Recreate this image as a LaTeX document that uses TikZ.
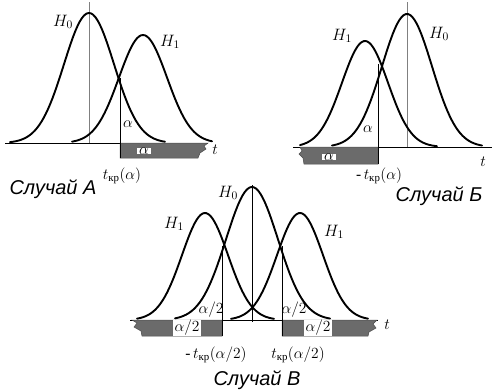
\RequirePackage{fix-cm}
\documentclass[tikz,border=0pt]{standalone}
\usepackage{amsmath}
\usepackage{fontspec}
\setmainfont{Liberation Serif}
\newfontfamily\capfont{Liberation Sans}
\usetikzlibrary{positioning}

\newcommand{\tkr}{t_{\text{кр}}}

\begin{document}
\begin{tikzpicture}[x=1pt, y=-1pt,
    curve/.style={line width=1.9pt, line cap=round},
    axis/.style={line width=0.6pt},
    guide/.style={line width=0.6pt, gray},
    crit/.style={line width=0.9pt},
    tail/.style={fill=black!58, draw=black!70, line width=0.5pt},
    hyp/.style={font=\fontsize{16.5}{18}\selectfont, inner sep=1pt},
    lbl/.style={font=\fontsize{15.5}{17}\selectfont, inner sep=1pt},
    inbox/.style={lbl, fill=white, inner xsep=2pt, inner ysep=0pt},
    caption/.style={font=\capfont\itshape\fontsize{20}{22}\selectfont}
]
\useasboundingbox (0,0) rectangle (496,391);

% Case A
\draw[axis] (5,143) -- (208,143);
\draw[guide] (89,2) -- (89,143);
\fill[tail] (120,143) -- (208,143) -- (204,146) -- (206,149) -- (200,153) -- (198,158) -- (120,158) -- cycle;
\draw[curve] plot[domain=10:165, samples=70] (\x, {143-130*exp(-0.5*((\x-89)/25)^2)});
\draw[curve] plot[domain=72:212, samples=70] (\x, {143-108*exp(-0.5*((\x-143)/24)^2)});
\coordinate (crA) at (120,78);
\coordinate (crAb) at (120,158);
\draw[crit] (crA) -- (crAb);
\node[hyp] (h0A) at (63,22) {$H_0$};
\node[hyp] (h1A) at (170,42) {$H_1$};
\node[lbl] (aA) at (128,124) {$\alpha$};
\node[inbox] (aboxA) at (144,151) {$\alpha$};
\node[lbl] (tA) at (215,150) {$t$};
\node[lbl] (kA) at (122,176) {$\tkr(\alpha)$};
\node[caption] (capA) at (53,189) {Случай А};

% Case B
\draw[axis] (293,147) -- (492,147);
\draw[guide] (407,2) -- (407,147);
\fill[tail] (378,147) -- (300,147) -- (302,151) -- (299,154) -- (303,158) -- (304,164) -- (378,164) -- cycle;
\draw[curve] plot[domain=332:482, samples=70] (\x, {147-133*exp(-0.5*((\x-407)/25)^2)});
\draw[curve] plot[domain=300:437, samples=70] (\x, {147-106*exp(-0.5*((\x-365)/23)^2)});
\coordinate (crB) at (378,64);
\coordinate (crBb) at (378,164);
\draw[crit] (crB) -- (crBb);
\node[hyp] (h1B) at (342,36) {$H_1$};
\node[hyp] (h0B) at (439,34) {$H_0$};
\node[lbl] (aB) at (368,129) {$\alpha$};
\node[inbox] (aboxB) at (329,157) {$\alpha$};
\node[lbl] (tB) at (483,162) {$t$};
\node[lbl] (kB) at (379,176) {-\,$\tkr(\alpha)$};
\node[caption] (capB) at (439,196) {Случай Б};

% Case C
\draw[axis] (130,320) -- (378,320);
\draw[axis] (252,185) -- (252,322);
\fill[tail] (222,320) -- (132,320) -- (137,323) -- (134,327) -- (141,331) -- (142,336) -- (222,336) -- cycle;
\fill[tail] (282,320) -- (377,320) -- (373,324) -- (376,328) -- (369,332) -- (368,336) -- (282,336) -- cycle;
\draw[curve] plot[domain=175:330, samples=70] (\x, {320-133*exp(-0.5*((\x-252)/26)^2)});
\draw[curve] plot[domain=137:274, samples=70] (\x, {320-107*exp(-0.5*((\x-205)/23)^2)});
\draw[curve] plot[domain=231:368, samples=70] (\x, {320-107*exp(-0.5*((\x-300)/23)^2)});
\coordinate (crL) at (222,246);
\coordinate (crLb) at (222,336);
\coordinate (crR) at (282,246);
\coordinate (crRb) at (282,336);
\draw[crit] (crL) -- (crLb);
\draw[crit] (crR) -- (crRb);
\node[hyp] (h0C) at (228,193) {$H_0$};
\node[hyp] (h1CL) at (174,224) {$H_1$};
\node[hyp] (h1CR) at (334,232) {$H_1$};
\node[lbl] (aCL) at (211,310) {$\alpha/2$};
\node[lbl] (aCR) at (294,310) {$\alpha/2$};
\node[inbox] (aboxCL) at (187,328) {$\alpha/2$};
\node[inbox] (aboxCR) at (318,328) {$\alpha/2$};
\node[lbl] (tC) at (387,325) {$t$};
\node[lbl] (kCL) at (216,355) {-\,$\tkr(\alpha/2)$};
\node[lbl] (kCR) at (298,355) {$\tkr(\alpha/2)$};
\node[caption] (capC) at (257,380) {Случай В};

\end{tikzpicture}
\end{document}
